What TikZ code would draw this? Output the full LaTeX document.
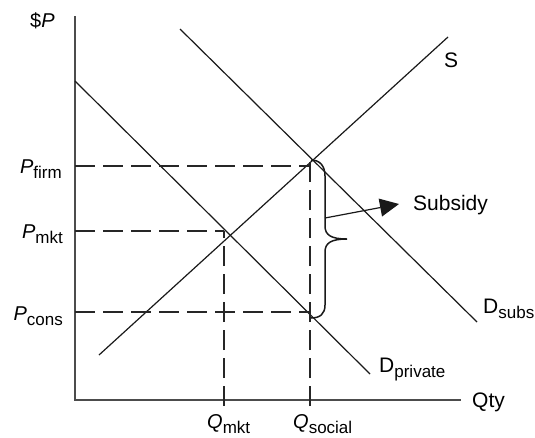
\documentclass[tikz,border=0pt]{standalone}
\usepackage{fontspec}
\setmainfont{Liberation Sans}
\usetikzlibrary{arrows.meta}
\newcommand{\lsb}[1]{\raisebox{-5pt}{\fontsize{17}{20}\selectfont #1}}
\begin{document}
\begin{tikzpicture}[x=1pt,y=-1pt,
  axisline/.style={draw=black!70, line width=1.8pt},
  curve/.style={draw=black!90, line width=1.2pt},
  guide/.style={draw=black!85, line width=1.2pt, dash pattern=on 20pt off 8pt},
  bracestyle/.style={draw=black!90, line width=1.5pt},
  lbl/.style={inner sep=0pt, font=\fontsize{21}{25}\selectfont},
  ilbl/.style={inner sep=0pt, font=\fontsize{20}{24}\selectfont}]
\useasboundingbox (0,0) rectangle (535,437);
% axes
\coordinate (O) at (75,400);
\coordinate (ytop) at (75,16);
\coordinate (xend) at (461,400);
\draw[axisline] (ytop) -- (O) -- (xend);
% curves
\coordinate (Sa) at (99,355);
\coordinate (Sb) at (448,37);
\coordinate (Dpa) at (75,81);
\coordinate (Dpb) at (370,374);
\coordinate (Dsa) at (180,29);
\coordinate (Dsb) at (477,322);
\draw[curve] (Sa) -- (Sb);
\draw[curve] (Dpa) -- (Dpb);
\draw[curve] (Dsa) -- (Dsb);
% guides
\coordinate (pf0) at (75,166);
\coordinate (pf1) at (310,166);
\coordinate (pm0) at (75,231);
\coordinate (pm1) at (224,231);
\coordinate (pc0) at (75,312);
\coordinate (pc1) at (310,312);
\coordinate (qm0) at (224,406);
\coordinate (qs0) at (310,406);
\coordinate (qs1) at (310,160);
\draw[guide] (pf0) -- (pf1);
\draw[guide] (pm0) -- (pm1);
\draw[guide] (pc0) -- (pc1);
\draw[guide] (qm0) -- (pm1);
\draw[guide] (qs0) -- (qs1);
% brace
\coordinate (bt) at (311,160);
\coordinate (bb) at (311,318);
\coordinate (btip) at (347,239);
\draw[bracestyle] (bt) .. controls (320,160) and (325,166) .. (325,176)
  -- (325,226) .. controls (325,235) and (331,239) .. (btip)
  .. controls (331,239) and (325,243) .. (325,252)
  -- (325,305) .. controls (325,314) and (320,318) .. (bb);
% arrow
\coordinate (arS) at (325,218);
\coordinate (arE) at (399,204);
\draw[curve, -{Triangle[length=19pt,width=18pt]}] (arS) -- (arE);
% labels
\node[ilbl, anchor=base west] (lP) at (30,27) {\$\textit{P}};
\node[ilbl, anchor=base east] (lpf) at (62,173) {\textit{P}\lsb{firm}};
\node[ilbl, anchor=base east] (lpm) at (63,238) {\textit{P}\lsb{mkt}};
\node[ilbl, anchor=base east] (lpc) at (63,320) {\textit{P}\lsb{cons}};
\node[ilbl, anchor=base west] (lqm) at (207,428) {\textit{Q}\lsb{mkt}};
\node[ilbl, anchor=base west] (lqs) at (293,428) {\textit{Q}\lsb{social}};
\node[lbl, anchor=base west] (lqty) at (472,407) {Qty};
\node[lbl, anchor=base west] (ldp) at (379,372) {D\lsb{private}};
\node[lbl, anchor=base west] (lds) at (483,313) {D\lsb{subs}};
\node[lbl, anchor=base west] (lS) at (444,67) {S};
\node[lbl, anchor=base west] (lsub) at (413,210) {Subsidy};
\end{tikzpicture}
\end{document}
